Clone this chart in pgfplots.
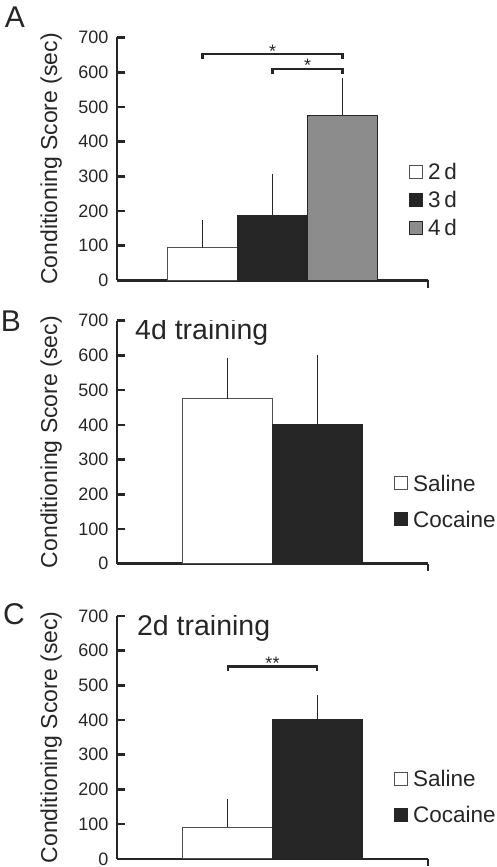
\documentclass[border=0pt]{standalone}
\usepackage{pgfplots}
\pgfplotsset{compat=1.18}
\usepackage{fontspec}
\setmainfont{Liberation Sans}
\definecolor{txt}{RGB}{38,38,38}
\definecolor{barblack}{RGB}{38,38,38}
\definecolor{bargray}{RGB}{140,140,140}
\definecolor{edge}{RGB}{80,80,80}

\pgfplotsset{
 panel/.style={
  scale only axis, width=311pt, height=243pt,
  ymin=0, ymax=700, ytick={0,100,...,700},
  axis lines*=left,
  axis line style={line width=2.6pt, color=txt},
  tick style={line width=2.6pt, color=txt},
  major tick length=7.5pt, tick align=inside,
  xticklabels={},
  /pgf/number format/assume math mode=true,
  yticklabel style={font=\fontsize{18}{18}\selectfont, text=txt, xshift=-5pt, inner ysep=0pt},
  ylabel={Conditioning Score (sec)},
  ylabel style={font=\fontsize{23}{23}\selectfont, text=txt, at={(axis description cs:-0.212,0.5)}, anchor=center},
  ybar, bar width=1, bar shift=0pt,
  every axis plot/.append style={
    error bars/y dir=plus, error bars/y explicit,
    error bars/error bar style={line width=1pt, color=txt},
    error bars/error mark options={line width=1.5pt, mark size=2.2pt, color=txt}},
  legend image code/.code={\draw[#1, line width=0.8pt] (0pt,-6.5pt) rectangle (13pt,6.5pt);},
  legend style={draw=none, fill=none, inner sep=0pt, font=\fontsize{22.5}{22.5}\selectfont, text=txt, column sep=5pt, nodes={inner sep=0pt, text height=20.7pt, text depth=4.5pt}},
  legend cell align=left,
 }
}

\begin{document}
\begin{tikzpicture}
\useasboundingbox (0,0) rectangle (497pt,867pt);

% Panel A
\begin{axis}[panel, at={(117pt,586.5pt)}, anchor=south west,
  xmin=-0.22, xmax=4.22, xtick={4.22},
  legend style={at={(axis description cs:0.939,0.500)}, anchor=north west, row sep=2.8pt}]
\addplot[fill=white, draw=edge, line width=0.8pt] coordinates {(1,94) +- (0,73)};
\addlegendentry{2\,d}
\addplot[fill=barblack, draw=txt, line width=0.8pt] coordinates {(2,188) +- (0,111)};
\addlegendentry{3\,d}
\addplot[fill=bargray, draw=txt, line width=0.8pt] coordinates {(3,475) +- (0,103)};
\addlegendentry{4\,d}
\draw[line width=2.2pt, color=txt] (axis cs:1,637) -- (axis cs:1,652) -- (axis cs:3,652) -- (axis cs:3,637);
\draw[line width=2.2pt, color=txt] (axis cs:2,594) -- (axis cs:2,609) -- (axis cs:3,609) -- (axis cs:3,594);
\node[font=\fontsize{18}{18}\selectfont, text=txt, yshift=-4pt] at (axis cs:2,671) {*};
\node[font=\fontsize{18}{18}\selectfont, text=txt, yshift=-4pt] at (axis cs:2.5,632) {*};
\end{axis}

% Panel B
\begin{axis}[panel, at={(117pt,303.3pt)}, anchor=south west,
  xmin=-0.235, xmax=3.235, xtick={3.235},
  legend style={at={(axis description cs:0.891,0.384)}, anchor=north west, row sep=10.8pt}]
\addplot[fill=white, draw=edge, line width=0.8pt] coordinates {(1,475) +- (0,112)};
\addlegendentry{Saline}
\addplot[fill=barblack, draw=txt, line width=0.8pt] coordinates {(2,401) +- (0,194)};
\addlegendentry{Cocaine}
\node[anchor=west, font=\fontsize{28.5}{28.5}\selectfont, text=txt, inner sep=0pt] at (axis description cs:0.058,0.953) {4d training};
\end{axis}

% Panel C
\begin{axis}[panel, at={(117pt,8.1pt)}, anchor=south west,
  xmin=-0.235, xmax=3.235, xtick={3.235},
  legend style={at={(axis description cs:0.891,0.383)}, anchor=north west, row sep=10.8pt}]
\addplot[fill=white, draw=edge, line width=0.8pt] coordinates {(1,91) +- (0,75)};
\addlegendentry{Saline}
\addplot[fill=barblack, draw=txt, line width=0.8pt] coordinates {(2,401) +- (0,64)};
\addlegendentry{Cocaine}
\draw[line width=2.2pt, color=txt] (axis cs:1,541) -- (axis cs:1,554) -- (axis cs:2,554) -- (axis cs:2,541);
\node[font=\fontsize{18}{18}\selectfont, text=txt, yshift=-4pt] at (axis cs:1.5,575) {**};
\node[anchor=west, font=\fontsize{28.5}{28.5}\selectfont, text=txt, inner sep=0pt] at (axis description cs:0.064,0.949) {2d training};
\end{axis}

\node[font=\fontsize{30}{30}\selectfont, text=txt, inner sep=0pt] at (15pt,849.5pt) {A};
\node[font=\fontsize{30}{30}\selectfont, text=txt, inner sep=0pt] at (11pt,546pt) {B};
\node[font=\fontsize{30}{30}\selectfont, text=txt, inner sep=0pt] at (14pt,253pt) {C};
\end{tikzpicture}
\end{document}
